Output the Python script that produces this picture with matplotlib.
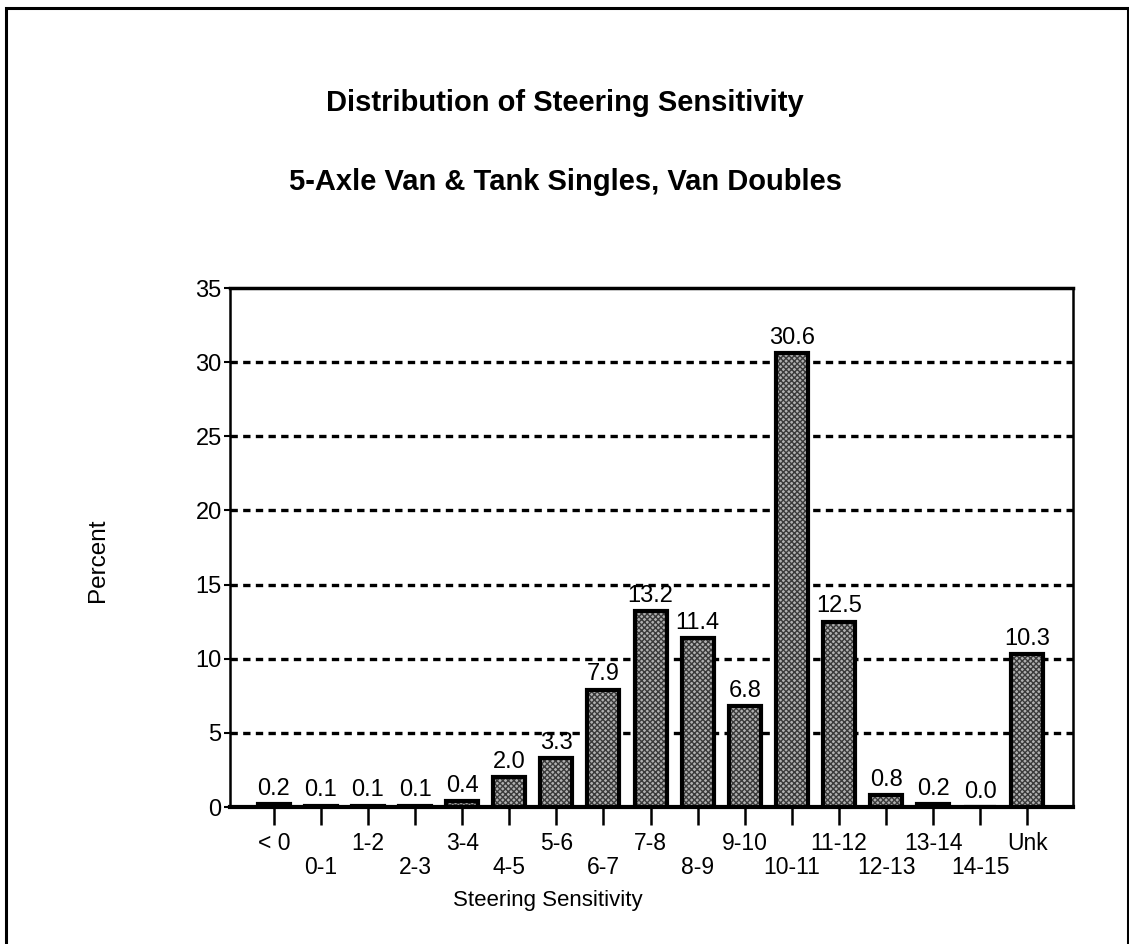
import numpy as np
import matplotlib
matplotlib.use("Agg")
import matplotlib.pyplot as plt
from matplotlib.patches import Rectangle

plt.rcParams['font.family'] = ['Liberation Sans', 'DejaVu Sans']

# data
categories = ["< 0", "0-1", "1-2", "2-3", "3-4", "4-5", "5-6", "6-7", "7-8",
              "8-9", "9-10", "10-11", "11-12", "12-13", "13-14", "14-15", "Unk"]
percent = [0.2, 0.1, 0.1, 0.1, 0.4, 2.0, 3.3, 7.9, 13.2,
           11.4, 6.8, 30.6, 12.5, 0.8, 0.2, 0.0, 10.3]
yticks = [0, 5, 10, 15, 20, 25, 30, 35]

fig = plt.figure(figsize=(11.29, 9.44), dpi=100)
ax = fig.add_axes([0.2037, 0.1451, 0.7467, 0.5498])

x = np.arange(len(categories))
# stippled fill first, then black outline on top
plt.rcParams['hatch.linewidth'] = 1.0
ax.bar(x, percent, width=0.68, color='#b0b0b0', edgecolor='#3a3a3a',
       hatch='xxxxxx', linewidth=0, zorder=3)
ax.bar(x, percent, width=0.68, fill=False, edgecolor='black',
       linewidth=3, zorder=4)

for xi, v in zip(x, percent):
    ax.text(xi, v + 0.3, f"{v:.1f}", ha='center', va='bottom',
            fontsize=17, zorder=5)

ax.set_xlim(-0.93, 16.97)
ax.set_ylim(0, 35)
ax.set_yticks(yticks)
ax.set_yticklabels([str(t) for t in yticks], fontsize=17)

# staggered category labels: even ones on the first row, odd ones below
ax.set_xticks(x[::2])
ax.set_xticklabels(categories[::2], fontsize=16.5)
ax.set_xticks(x[1::2], minor=True)
ax.set_xticklabels(categories[1::2], minor=True, fontsize=16.5)
ax.tick_params(axis='x', which='major', length=13, width=1.8, pad=5)
ax.tick_params(axis='x', which='minor', length=13, width=1.8, pad=22)
ax.tick_params(axis='y', length=4, width=1.5, pad=2)

for t in yticks[1:-1]:
    ax.axhline(t, color='black', linestyle=(0, (2.2, 1.6)), linewidth=2.4, zorder=1)

for s in ax.spines.values():
    s.set_linewidth(1.8)
ax.spines['bottom'].set_linewidth(3)
ax.spines['top'].set_linewidth(2.5)

fig.text(0.5005, 0.891, "Distribution of Steering Sensitivity", ha='center',
         va='center', fontsize=21, fontweight='bold')
fig.text(0.5005, 0.807, "5-Axle Van & Tank Singles, Van Doubles", ha='center',
         va='center', fontsize=21, fontweight='bold')
fig.text(0.087, 0.407, "Percent", rotation=90, ha='center', va='center',
         fontsize=17.5)
fig.text(0.485, 0.046, "Steering Sensitivity", ha='center', va='center',
         fontsize=16)

# page border around the figure
fig.patches.append(Rectangle((0.005, -0.02), 0.994, 1.011, transform=fig.transFigure,
                             fill=False, edgecolor='black', linewidth=2.2))

fig.savefig("out.png", dpi=100)
